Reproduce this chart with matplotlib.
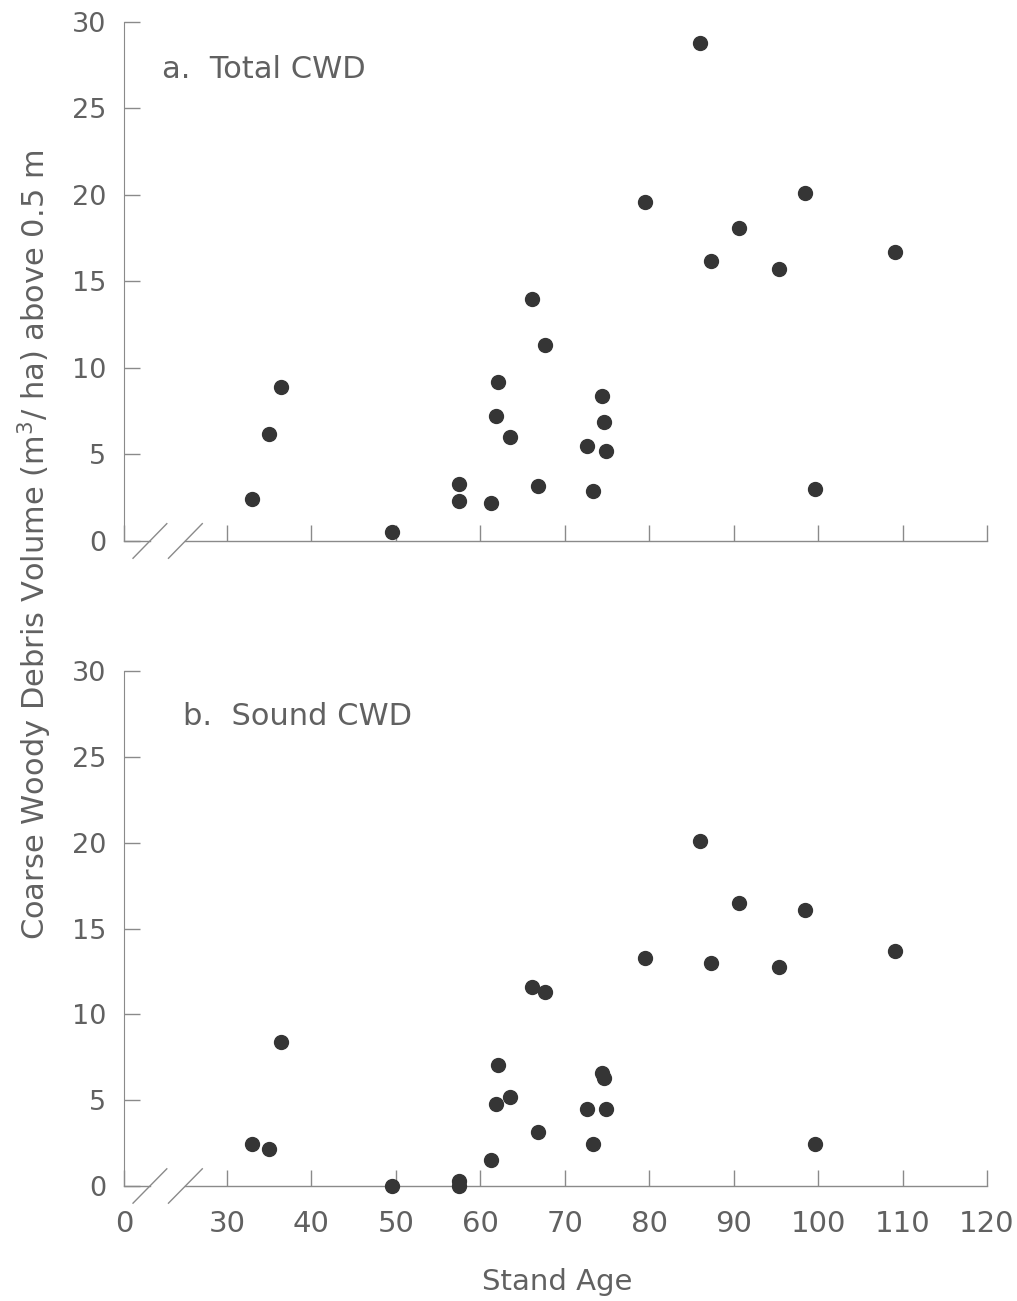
import matplotlib
matplotlib.use("Agg")
import matplotlib.pyplot as plt

plt.rcParams['font.family'] = ['DejaVu Sans']

# stand ages and CWD volumes (m3/ha) for each stand
stand_age = [33.0, 35.0, 36.4, 49.6, 57.5, 57.5, 61.3, 61.9, 62.1, 63.5,
             66.1, 66.9, 67.7, 72.6, 73.3, 74.4, 74.6, 74.9, 79.5, 86.0,
             87.3, 90.6, 95.4, 98.4, 99.6, 109.1]
total_cwd = [2.4, 6.2, 8.9, 0.5, 3.3, 2.3, 2.2, 7.2, 9.2, 6.0,
             14.0, 3.2, 11.3, 5.5, 2.9, 8.4, 6.9, 5.2, 19.6, 28.8,
             16.2, 18.1, 15.7, 20.1, 3.0, 16.7]
sound_cwd = [2.45, 2.15, 8.4, 0.0, 0.3, 0.0, 1.5, 4.75, 7.05, 5.2,
             11.6, 3.15, 11.3, 4.5, 2.45, 6.6, 6.3, 4.5, 13.3, 20.1,
             13.0, 16.5, 12.75, 16.1, 2.45, 13.7]

x_ticks = [30, 40, 50, 60, 70, 80, 90, 100, 110, 120]
y_ticks = [0, 5, 10, 15, 20, 25, 30]
panel_titles = ["a.  Total CWD", "b.  Sound CWD"]

x_zero = 17.83   # where the "0" sits after the axis break
gray = "#8a8a8a"
text_col = "#616161"
dot_col = "#353535"

fig = plt.figure(figsize=(10.17, 13.01), dpi=100)
ax_top = fig.add_axes([0.1219, 0.5842, 0.8486, 0.3989])
ax_bot = fig.add_axes([0.1219, 0.0884, 0.8486, 0.3958])

for ax, vals, title, tx, ty in [(ax_top, total_cwd, panel_titles[0], 0.044, 0.9075),
                                (ax_bot, sound_cwd, panel_titles[1], 0.068, 0.9126)]:
    ax.plot(stand_age, vals, 'o', color=dot_col, markersize=10, clip_on=False, zorder=5)
    ax.set_xlim(x_zero, 120)
    ax.set_ylim(0, 30)
    ax.set_yticks(y_ticks)
    ax.set_xticks([x_zero] + x_ticks)
    ax.spines['top'].set_visible(False)
    ax.spines['right'].set_visible(False)
    ax.spines['bottom'].set_visible(False)
    ax.spines['left'].set_color(gray)
    ax.tick_params(direction='in', length=11.5, width=1, color=gray,
                   labelcolor=text_col)
    ax.tick_params(axis='y', pad=13, labelsize=19.5)
    ax.tick_params(axis='x', pad=17, labelsize=21)
    ax.text(tx, ty, title, transform=ax.transAxes, fontsize=22,
            color=text_col, va='center', ha='left')

    # x axis line with the break marks
    ax.plot([x_zero, 20.9], [0, 0], color=gray, lw=1, clip_on=False)
    ax.plot([25.05, 120], [0, 0], color=gray, lw=1, clip_on=False)
    ax.plot([18.9, 22.9], [-1.0, 1.0], color=gray, lw=1, clip_on=False)
    ax.plot([23.1, 27.1], [-1.0, 1.0], color=gray, lw=1, clip_on=False)

ax_top.set_xticklabels([])
ax_bot.set_xticklabels(["0"] + [str(t) for t in x_ticks])

fig.text(0.548, 0.0146, "Stand Age", fontsize=21, color=text_col, ha='center', va='center')
fig.text(0.034, 0.581, "Coarse Woody Debris Volume (m$^3$/ ha) above 0.5 m",
         fontsize=22, color=text_col, rotation=90, ha='center', va='center')

fig.savefig("out.png", dpi=100, facecolor="white")
